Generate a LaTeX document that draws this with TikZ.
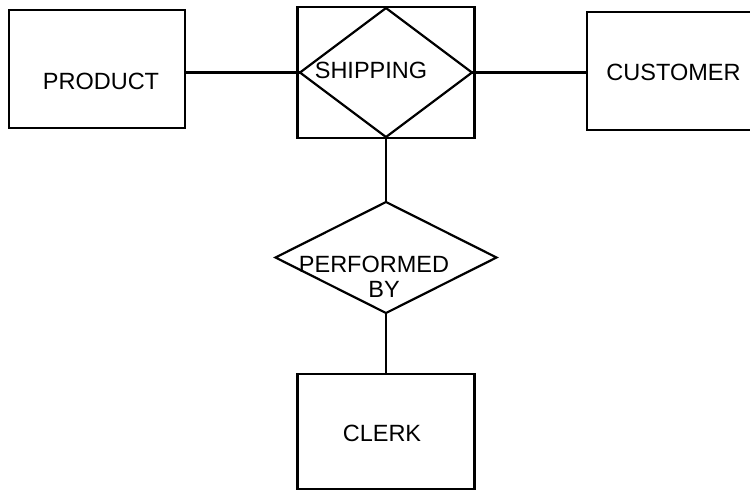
\documentclass[tikz,border=0pt]{standalone}
\usepackage{fontspec}
\setmainfont{Liberation Sans}
\usetikzlibrary{shapes.geometric}
\begin{document}
\begin{tikzpicture}[x=1pt,y=-1pt,line width=2.2pt,
	entity/.style={draw,rectangle,inner sep=0pt,outer sep=0pt},
	relship/.style={draw,diamond,inner sep=0pt,outer sep=0pt},
	lbl/.style={inner sep=0pt,font=\fontsize{23.5}{25}\selectfont}]
	\clip (0,0) rectangle (750,491);
	% entities
	\node (Pr) at (97,69) [entity,minimum width=176,minimum height=118] {};
	\node (Cu) at (673.5,71) [entity,minimum width=173,minimum height=118] {};
	\node (Cl) at (386,431.5) [entity,minimum width=177,minimum height=115] {};
	% aggregate shipping
	\node (Ag) at (386,72.5) [entity,minimum width=177,minimum height=131] {};
	\node (Sh) at (386,72.5) [relship,minimum width=172,minimum height=129] {};
	\node (Pe) at (386,257.5) [relship,minimum width=221,minimum height=111] {};
	% labels
	\node (PrL) at (101,81) [lbl] {PRODUCT};
	\node (CuL) at (673.5,72) [lbl] {CUSTOMER};
	\node (ClL) at (382,433) [lbl] {CLERK};
	\node (ShL) at (371,70) [lbl] {SHIPPING};
	\node (PeL) at (374,277) [lbl,align=center] {PERFORMED\\\hspace*{20pt}BY};
	% links
	\draw (Sh.west -| Pr.east) -- (Sh.west);
	\draw (Sh.east) -- (Sh.east -| Cu.west);
	\draw (Sh.south) -- (Pe.north);
	\draw (Pe.south) -- (Cl.north);
\end{tikzpicture}
\end{document}
